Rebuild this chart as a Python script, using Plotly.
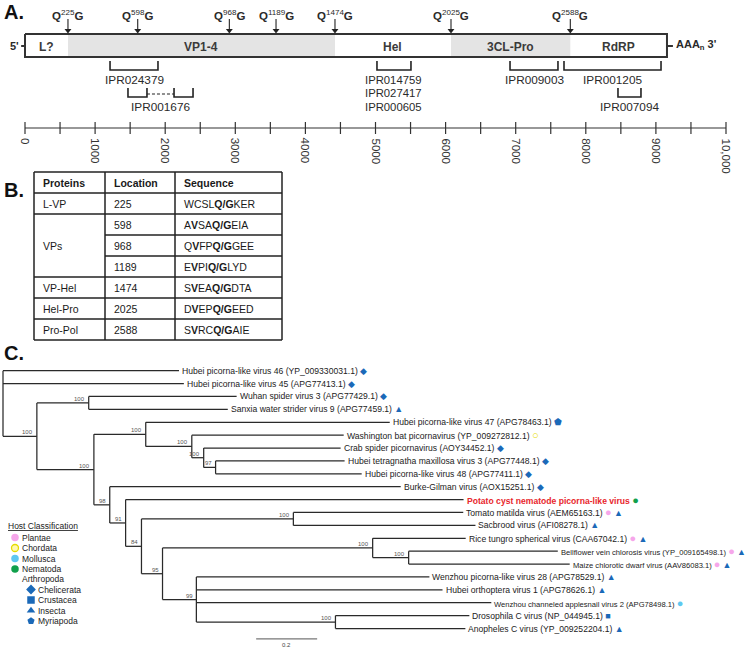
import plotly.graph_objects as go

# ======================= DATA =======================
# ---- Panel A: genome map (positions in nt along the drawn ruler) ----
cleavage_aa = ["225", "598", "968", "1189", "1474", "2025", "2588"]
cleavage_nt = [613, 1608, 2915, 3581, 4422, 6077, 7779]
genome_length_nt = 9158
segment_names = ["L?", "VP1-4", "Hel", "3CL-Pro", "RdRP"]
segment_start_nt = [0, 613, 4422, 6077, 7779]
segment_end_nt = [613, 4422, 6077, 7779, 9158]
segment_shaded = [False, True, False, True, False]
domain_labels = [["IPR024379"], ["IPR001676"], ["IPR014759", "IPR027417", "IPR000605"],
                 ["IPR009003"], ["IPR001205"], ["IPR007094"]]
domain_parts_nt = [[(1213, 1897)], [(1469, 1740), (2126, 2397)], [(5021, 5506)],
                   [(6919, 7603)], [(7689, 9073)], [(8459, 8787)]]
domain_row = [0, 1, 0, 0, 0, 1]
ruler_ticks_nt = list(range(0, 10001, 500))
ruler_label_nt = [0, 1000, 2000, 3000, 4000, 5000, 6000, 7000, 8000, 9000, 10000]
ruler_labels = ["0", "1000", "2000", "3000", "4000", "5000", "6000", "7000", "8000", "9000", "10,000"]

# ---- Panel B: cleavage table ----
table_header = ["Proteins", "Location", "Sequence"]
table_proteins = ["L-VP", "VPs", "VP-Hel", "Hel-Pro", "Pro-Pol"]
protein_rowspan = [1, 3, 1, 1, 1]
table_locations = ["225", "598", "968", "1189", "1474", "2025", "2588"]
table_sequences = ["WCSL<b>Q/G</b>KER", "A<b>V</b>SA<b>Q/G</b>EIA", "Q<b>V</b>FP<b>Q/G</b>GEE",
                   "E<b>V</b>PI<b>Q/G</b>LYD", "S<b>V</b>EA<b>Q/G</b>DTA", "D<b>V</b>EP<b>Q/G</b>EED",
                   "S<b>V</b>RC<b>Q/G</b>AIE"]

# ---- Panel C: phylogenetic tree ----
leaf_names = [
    "Hubei picorna-like virus 46 (YP_009330031.1)",
    "Hubei picorna-like virus 45 (APG77413.1)",
    "Wuhan spider virus 3 (APG77429.1)",
    "Sanxia water strider virus 9 (APG77459.1)",
    "Hubei picorna-like virus 47 (APG78463.1)",
    "Washington bat picornavirus (YP_009272812.1)",
    "Crab spider picornavirus (AOY34452.1)",
    "Hubei tetragnatha maxillosa virus 3 (APG77448.1)",
    "Hubei picorna-like virus 48 (APG77411.1)",
    "Burke-Gilman virus (AOX15251.1)",
    "Potato cyst nematode picorna-like virus",
    "Tomato matilda virus (AEM65163.1)",
    "Sacbrood virus (AFI08278.1)",
    "Rice tungro spherical virus (CAA67042.1)",
    "Bellflower vein chlorosis virus (YP_009165498.1)",
    "Maize chlorotic dwarf virus (AAV86083.1)",
    "Wenzhou picorna-like virus 28 (APG78529.1)",
    "Hubei orthoptera virus 1 (APG78626.1)",
    "Wenzhou channeled applesnail virus 2 (APG78498.1)",
    "Drosophila C virus (NP_044945.1)",
    "Anopheles C virus (YP_009252204.1)",
]
leaf_parent = ["root", "root", "C", "C", "D", "F", "G", "H", "H", "E", "I",
               "K", "K", "M", "O", "O", "N", "N", "N", "P", "P"]
leaf_branch = [0.577, 0.593, 0.485, 0.456, 0.800, 0.498, 0.449, 0.423, 0.479, 0.954, 1.108,
               0.557, 0.597, 0.305, 0.489, 0.528, 0.764, 0.807, 0.967, 0.439, 0.426]
leaf_hosts = [["Chelicerata"], ["Chelicerata"], ["Chelicerata"], ["Insecta"], ["Myriapoda"],
              ["Chordata"], ["Chelicerata"], ["Chelicerata"], ["Chelicerata"], ["Chelicerata"],
              ["Nematoda"], ["Plantae", "Insecta"], ["Insecta"], ["Plantae", "Insecta"],
              ["Plantae", "Insecta"], ["Plantae", "Insecta"], ["Insecta"], ["Insecta"],
              ["Mollusca"], ["Crustacea"], ["Insecta"]]
node_names = ["A", "C", "B", "D", "F", "G", "H", "E", "I", "J", "K", "L", "M", "O", "N", "P"]
node_parent = ["root", "A", "A", "B", "D", "F", "G", "B", "E", "I", "J", "J", "L", "M", "L", "N"]
node_branch = [0.111, 0.170, 0.187, 0.170, 0.151, 0.039, 0.039, 0.052, 0.052, 0.052,
               0.498, 0.069, 0.689, 0.118, 0.111, 0.456]
node_bootstrap = ["100", "100", "100", "100", "100", "100", "97", "98", "91", "84",
                  "100", "95", "100", "100", "99", "100"]
scale_bar_length = 0.2

host_classes = ["Plantae", "Chordata", "Mollusca", "Nematoda",
                "Chelicerata", "Crustacea", "Insecta", "Myriapoda"]
host_symbols = ["circle", "circle", "circle", "circle", "diamond", "square", "triangle-up", "pentagon"]
host_glyphs = ["●", "○", "●", "●", "◆", "■", "▲", "⬟"]
host_colors = ["#f6a6ea", "#e6dc00", "#5ec8f0", "#10a04c", "#1b69b8", "#1b69b8", "#1b69b8", "#1b69b8"]

# ======================= STYLE / LAYOUT =======================
W, H = 747, 649
FONT = "Liberation Sans, Arial, Helvetica, sans-serif"
INK = "#2a2a2a"
BOX_TOP, BOX_BOT = 34, 57
fig = go.Figure()
ann = []

def A(**kw):
    kw.setdefault("showarrow", False)
    ann.append(kw)

# ---------- Panel A ----------
XA, YA = "x", "y"
for s, e, sh in zip(segment_start_nt, segment_end_nt, segment_shaded):
    if sh:
        fig.add_trace(go.Scatter(x=[s, e, e, s, s], y=[BOX_TOP, BOX_TOP, BOX_BOT, BOX_BOT, BOX_TOP],
                                 fill="toself", fillcolor="#e4e4e4", line=dict(width=0),
                                 mode="lines", xaxis=XA, yaxis=YA, hoverinfo="skip"))
L = genome_length_nt
fig.add_trace(go.Scatter(x=[0, L, L, 0, 0], y=[BOX_TOP, BOX_TOP, BOX_BOT, BOX_BOT, BOX_TOP],
                         mode="lines", line=dict(color="#333", width=2), xaxis=XA, yaxis=YA,
                         hoverinfo="skip"))
fig.add_trace(go.Scatter(x=[-55, 0, None, L, L + 85], y=[46, 46, None, 46, 46], mode="lines",
                         line=dict(color="#333", width=2), xaxis=XA, yaxis=YA, hoverinfo="skip"))
A(x=-150, y=45.5, xref=XA, yref=YA, text="<b>5'</b>", font=dict(family=FONT, size=11, color=INK))
A(x=L + 100, y=45, xref=XA, yref=YA, xanchor="left", text="<b>AAA<sub>n</sub> 3'</b>",
  font=dict(family=FONT, size=11, color=INK))
for nm, s, e in zip(segment_names, segment_start_nt, segment_end_nt):
    A(x=(s + e) / 2, y=46.5, xref=XA, yref=YA, text="<b>" + nm + "</b>",
      font=dict(family=FONT, size=12, color="#3a3a3a"))
# cleavage arrows
arx, ary = [], []
for aa, nt in zip(cleavage_aa, cleavage_nt):
    A(x=nt, y=15, xref=XA, yref=YA, text="<b>Q</b><sup>" + aa + "</sup><b>G</b>",
      font=dict(family=FONT, size=11.5, color=INK))
    arx += [nt, nt, None]
    ary += [19, 30, None]
fig.add_trace(go.Scatter(x=arx, y=ary, mode="lines", line=dict(color="#222", width=1.1),
                         xaxis=XA, yaxis=YA, hoverinfo="skip"))
fig.add_trace(go.Scatter(x=cleavage_nt, y=[30.5] * len(cleavage_nt), mode="markers",
                         marker=dict(symbol="triangle-down", size=6, color="#222", line=dict(width=0)),
                         xaxis=XA, yaxis=YA, hoverinfo="skip"))
# domain brackets
bx, by, dx, dy = [], [], [], []
row_top = [61, 88]
row_bot = [70, 97]
for labels, parts, r in zip(domain_labels, domain_parts_nt, domain_row):
    t, b = row_top[r], row_bot[r]
    for s, e in parts:
        bx += [s, s, e, e, None]
        by += [t, b, b, t, None]
    for p, q in zip(parts[:-1], parts[1:]):
        dx += [p[1], q[0], None]
        dy += [b - 3, b - 3, None]
    cx = (parts[0][0] + parts[-1][1]) / 2
    multi = len(labels) > 1
    for k, lab in enumerate(labels):
        A(x=cx, y=b + 9.5 + 13.6 * k, xref=XA, yref=YA, text=lab, borderpad=0,
          font=dict(family=FONT, size=11.3 if multi else 11.8, color=INK))
fig.add_trace(go.Scatter(x=bx, y=by, mode="lines", line=dict(color="#222", width=1.6),
                         xaxis=XA, yaxis=YA, hoverinfo="skip"))
fig.add_trace(go.Scatter(x=dx, y=dy, mode="lines", line=dict(color="#222", width=1.2, dash="3px,2px"),
                         xaxis=XA, yaxis=YA, hoverinfo="skip"))
# ruler
rx, ry = [0, 10000, None], [128, 128, None]
for t in ruler_ticks_nt:
    rx += [t, t, None]
    ry += [122, 134, None]
fig.add_trace(go.Scatter(x=rx, y=ry, mode="lines", line=dict(color="#333", width=1.2),
                         xaxis=XA, yaxis=YA, hoverinfo="skip"))
for v, lab in zip(ruler_label_nt, ruler_labels):
    A(x=v, y=136, xref=XA, yref=YA, yanchor="top", textangle=90, text=lab,
      font=dict(family=FONT, size=11.5, color="#333"))

# panel letters
A(x=2, y=12, xref="x2", yref="y", xanchor="left", text="<b>A.</b>", font=dict(family=FONT, size=20, color="#111"))
A(x=2, y=190, xref="x2", yref="y", xanchor="left", text="<b>B.</b>", font=dict(family=FONT, size=20, color="#111"))
A(x=2, y=353, xref="x2", yref="y", xanchor="left", text="<b>C.</b>", font=dict(family=FONT, size=20, color="#111"))

# ---------- Panel B (table) ----------
col_x = [34, 105, 175, 282]
row_h = 21
t_top = 172
n_rows = len(table_locations)
t_bot = t_top + row_h * (n_rows + 1)
tx, ty = [], []
for xc in col_x:
    tx += [xc, xc, None]
    ty += [t_top, t_bot, None]
tx += [col_x[0], col_x[-1], None, col_x[0], col_x[-1], None]
ty += [t_top, t_top, None, t_bot, t_bot, None]
span_starts = []
acc = 0
for sp in protein_rowspan:
    span_starts.append(acc)
    acc += sp
for i in range(n_rows):
    yb = t_top + row_h * (i + 1)
    start = col_x[0] if i in span_starts else col_x[1]
    tx += [start, col_x[-1], None]
    ty += [yb, yb, None]
fig.add_trace(go.Scatter(x=tx, y=ty, mode="lines", line=dict(color="#222", width=1.5),
                         xaxis="x2", yaxis="y", hoverinfo="skip"))
tfont = dict(family=FONT, size=10.5, color="#1a1a1a")
for j, hdr in enumerate(table_header):
    A(x=col_x[j] + 7, y=t_top + row_h / 2, xref="x2", yref="y", xanchor="left",
      text="<b>" + hdr + "</b>", font=tfont)
for p, s0, sp in zip(table_proteins, span_starts, protein_rowspan):
    yc = t_top + row_h * (1 + s0 + sp / 2)
    A(x=col_x[0] + 7, y=yc, xref="x2", yref="y", xanchor="left", text=p, font=tfont)
for i, (loc, seq) in enumerate(zip(table_locations, table_sequences)):
    yc = t_top + row_h * (1.5 + i)
    A(x=col_x[1] + 7, y=yc, xref="x2", yref="y", xanchor="left", text=loc, font=tfont)
    A(x=col_x[2] + 7, y=yc, xref="x2", yref="y", xanchor="left", text=seq, font=tfont)

# ---------- Panel C (tree) ----------
xpos = {"root": 0.0}
for n, p, b in zip(node_names, node_parent, node_branch):
    xpos[n] = xpos[p] + b
ypos = {}
children = {}
for i, (n, p, b) in enumerate(zip(leaf_names, leaf_parent, leaf_branch)):
    key = "leaf%d" % i
    xpos[key] = xpos[p] + b
    ypos[key] = i
    children.setdefault(p, []).append(key)
for n, p in zip(node_names, node_parent):
    children.setdefault(p, []).append(n)
for n in reversed(["root"] + node_names):
    ys = [ypos[c] for c in children[n]]
    ypos[n] = (min(ys) + max(ys)) / 2
parent_of = {"leaf%d" % i: p for i, p in enumerate(leaf_parent)}
parent_of.update(dict(zip(node_names, node_parent)))
lx, ly = [], []
for c, p in parent_of.items():
    lx += [xpos[p], xpos[c], None]
    ly += [ypos[c], ypos[c], None]
for n, ch in children.items():
    ys = [ypos[c] for c in ch]
    lx += [xpos[n], xpos[n], None]
    ly += [min(ys), max(ys), None]
fig.add_trace(go.Scatter(x=lx, y=ly, mode="lines", line=dict(color="#2a2a2a", width=1.25),
                         xaxis="x3", yaxis="y3", hoverinfo="skip"))
for n, bs in zip(node_names, node_bootstrap):
    A(x=xpos[n], y=ypos[n], xref="x3", yref="y3", xanchor="right", yanchor="bottom",
      xshift=-1.5, yshift=-1, text=bs, font=dict(family=FONT, size=6, color="#555"))
glyph = dict(zip(host_classes, zip(host_glyphs, host_colors)))
small = {14, 15, 18}
for i, (nm, hosts) in enumerate(zip(leaf_names, leaf_hosts)):
    key = "leaf%d" % i
    if i == 10:
        txt = "<b><span style='color:#e8262c'>" + nm + "</span></b>"
    else:
        txt = nm
    parts = []
    for h in hosts:
        g, c = glyph[h]
        fs = 11 if g in ("●", "○") else 9
        parts.append("<span style='color:%s;font-size:%dpx'>%s</span>" % (c, fs, g))
    A(x=xpos[key], y=ypos[key], xref="x3", yref="y3", xanchor="left", xshift=1,
      text=txt + " " + " ".join(parts),
      font=dict(family=FONT, size=7.6 if i in small else 8.6, color="#222"))
# scale bar
sb0 = 0.83
sby = len(leaf_names) - 0.2
fig.add_trace(go.Scatter(x=[sb0, sb0 + scale_bar_length], y=[sby, sby], mode="lines",
                         line=dict(color="#777", width=1.2), xaxis="x3", yaxis="y3", hoverinfo="skip"))
A(x=sb0 + scale_bar_length / 2, y=sby + 0.45, xref="x3", yref="y3", borderpad=0,
  text=str(scale_bar_length), font=dict(family=FONT, size=6, color="#444"))

# legend
A(x=6, y=526, xref="x2", yref="y", xanchor="left",
  text="<span style='text-decoration:underline'>Host Classification</span>",
  font=dict(family=FONT, size=8.5, color="#222"))
leg_y = [537.5, 548, 558.5, 569, 589.5, 600, 610.5, 621]
leg_mx = [15, 15, 15, 15, 31, 31, 31, 31]
for cls, sym, col, yy, mx in zip(host_classes, host_symbols, host_colors, leg_y, leg_mx):
    if cls == "Chordata":
        mk = dict(symbol="circle", size=7, color="#fff8b0", line=dict(color=col, width=1.3))
    else:
        mk = dict(symbol=sym, size=7.5, color=col, line=dict(width=0))
    fig.add_trace(go.Scatter(x=[mx], y=[yy], mode="markers", marker=mk, xaxis="x2", yaxis="y",
                             hoverinfo="skip"))
    A(x=mx + 5, y=yy, xref="x2", yref="y", xanchor="left", text=cls,
      font=dict(family=FONT, size=8.5, color="#222"))
A(x=20, y=579, xref="x2", yref="y", xanchor="left", text="Arthropoda",
  font=dict(family=FONT, size=8.5, color="#222"))

# ---------- axes ----------
px_per_nt = 0.0701
nt0_px = 25
ax_off = dict(visible=False, fixedrange=True, showgrid=False, zeroline=False)
tree_px_per_unit = 305
tree_x0_px = 3
leaf0_px, leaf_step_px = 370.7, 12.89
fig.update_layout(
    width=W, height=H, autosize=False, margin=dict(l=0, r=0, t=0, b=0, pad=0),
    paper_bgcolor="white", plot_bgcolor="white", showlegend=False,
    xaxis=dict(range=[-nt0_px / px_per_nt, (W - nt0_px) / px_per_nt], domain=[0, 1], **ax_off),
    yaxis=dict(range=[H, 0], domain=[0, 1], **ax_off),
    xaxis2=dict(range=[0, W], overlaying="x", **ax_off),
    xaxis3=dict(range=[-tree_x0_px / tree_px_per_unit, (W - tree_x0_px) / tree_px_per_unit],
                overlaying="x", **ax_off),
    yaxis3=dict(range=[(H - leaf0_px) / leaf_step_px, -leaf0_px / leaf_step_px],
                overlaying="y", **ax_off),
    annotations=ann,
)
fig.write_html("out.html", config={"displayModeBar": False, "staticPlot": True},
               post_script="document.body.style.margin='0px';document.body.style.overflow='hidden';")
